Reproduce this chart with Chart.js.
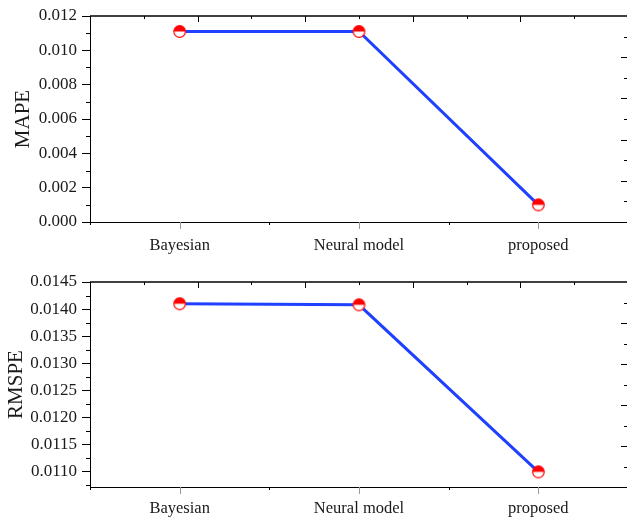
<!DOCTYPE html>
<html>
<head>
<title>MAPE / RMSPE</title>
<script src="https://cdn.jsdelivr.net/npm/chart.js"></script>
<style>
    html, body {
        margin: 0;
        padding: 0;
        background: #fff;
        overflow: hidden;
        width: 627px;
        height: 517px;
    }
    .panel { position: absolute; left: 0; }
    #topPanel { top: 0; }
    #bottomPanel { top: 260px; }
</style>
</head>
<body>
<div class="panel" id="topPanel"><canvas id="mapeChart" width="640" height="260"></canvas></div>
<div class="panel" id="bottomPanel"><canvas id="rmspeChart" width="640" height="257"></canvas></div>
<script>
// data
const models = ['Bayesian', 'Neural model', 'proposed'];
const mapeValues = [0.0111, 0.0111, 0.0010];
const rmspeValues = [0.01410, 0.01408, 0.01100];
const mapeTicks = [0, 0.002, 0.004, 0.006, 0.008, 0.010, 0.012];
const rmspeTicks = [0.0110, 0.0115, 0.0120, 0.0125, 0.0130, 0.0135, 0.0140, 0.0145];

const serif = 'Liberation Serif';
const textColor = '#1a1a1a';
const lineColor = '#2040ff';

// half filled circle marker (top red, bottom white)
function halfMarker() {
    const c = document.createElement('canvas');
    c.width = 15; c.height = 15;
    const g = c.getContext('2d');
    const r = 5.8, cx = 7.5, cy = 7.5;
    g.fillStyle = '#fff';
    g.beginPath(); g.arc(cx, cy, r, 0, Math.PI * 2); g.fill();
    g.fillStyle = '#ff0000';
    g.beginPath(); g.arc(cx, cy, r, Math.PI, 0); g.closePath(); g.fill();
    g.strokeStyle = '#ff0000'; g.lineWidth = 1.2;
    g.beginPath(); g.arc(cx, cy, r, 0, Math.PI * 2); g.stroke();
    return c;
}
const marker = halfMarker();

function seg(ctx, x1, y1, x2, y2) {
    ctx.beginPath(); ctx.moveTo(x1, y1); ctx.lineTo(x2, y2); ctx.stroke();
}

// origin style frame: minor ticks, top/right axes, category ticks
const framePlugin = {
    id: 'frame',
    afterDraw(chart, args, opts) {
        const { ctx, chartArea: a, scales } = chart;
        const x = scales.x, y = scales.y, xt = scales.xTop, yr = scales.yRight;
        ctx.save();
        ctx.strokeStyle = '#000';
        ctx.lineWidth = 1;
        // minor ticks on left axis
        const t = opts.ticks, step = t[1] - t[0];
        for (let v = t[0] - step / 2; v <= y.max + 1e-9; v += step) {
            if (v < y.min) continue;
            const py = Math.round(y.getPixelForValue(v)) + 0.5;
            seg(ctx, a.left - 4, py, a.left, py);
        }
        // top axis line + inward ticks
        ctx.lineWidth = 1.5;
        seg(ctx, a.left, a.top, a.right, a.top);
        seg(ctx, a.right, a.top, a.right, a.bottom);
        ctx.lineWidth = 1;
        for (let i = 1; i < 10; i++) {
            const px = Math.round(xt.getPixelForValue(i)) + 0.5;
            seg(ctx, px, a.top, px, a.top + (i % 2 ? 3 : 6));
        }
        // right axis inward ticks
        for (let i = 0; i < 10; i++) {
            const py = Math.round(yr.getPixelForValue(i)) + 0.5;
            seg(ctx, a.right - (i % 2 ? 4 : 7), py, a.right, py);
        }
        // category ticks (grey) and boundary ticks
        ctx.strokeStyle = '#999';
        models.forEach((m, i) => {
            const px = Math.round(x.getPixelForValue(i)) + 0.5;
            seg(ctx, px, a.bottom, px, a.bottom + 7);
        });
        ctx.strokeStyle = '#000';
        for (let i = 0; i <= models.length; i++) {
            const px = Math.round(x.getPixelForValue(i - 0.5)) + 0.5;
            seg(ctx, px, a.bottom, px, a.bottom + 3);
        }
        ctx.restore();
    }
};

function makeChart(id, values, ticks, min, max, digits, title, titlePad, padTop, xHeight, labelPad) {
    return new Chart(document.getElementById(id), {
        type: 'line',
        data: {
            labels: models,
            datasets: [{
                data: values,
                borderColor: lineColor,
                borderWidth: 3,
                tension: 0,
                pointStyle: marker,
                pointRadius: 6,
                pointHoverRadius: 6
            }]
        },
        options: {
            responsive: false,
            animation: false,
            events: [],
            layout: { padding: { top: padTop, right: 12, bottom: 0, left: 0 } },
            plugins: {
                legend: { display: false },
                tooltip: { enabled: false },
                frame: { ticks: ticks }
            },
            scales: {
                x: {
                    offset: true,
                    afterFit: ax => { ax.height = xHeight; },
                    ticks: { font: { family: serif, size: 16.5 }, color: textColor, padding: labelPad },
                    grid: { drawOnChartArea: false, tickLength: 8, tickColor: 'rgba(0,0,0,0)' },
                    border: { color: '#000', width: 1 }
                },
                y: {
                    min: min,
                    max: max,
                    afterBuildTicks: ax => { ax.ticks = ticks.map(v => ({ value: v })); },
                    afterFit: ax => { ax.width = 90; },
                    ticks: {
                        callback: v => Number(v).toFixed(digits),
                        font: { family: serif, size: 17 },
                        color: textColor,
                        padding: 5
                    },
                    grid: { drawOnChartArea: false, tickLength: 8, tickColor: '#000' },
                    border: { color: '#000', width: 1 },
                    title: {
                        display: true,
                        text: title,
                        font: { family: serif, size: 21 },
                        color: textColor,
                        padding: { top: titlePad, bottom: 0 }
                    }
                },
                xTop: { type: 'linear', display: false, min: 0, max: 10, position: 'top' },
                yRight: { type: 'linear', display: false, min: 0, max: 10, position: 'right' }
            }
        },
        plugins: [framePlugin]
    });
}

makeChart('mapeChart', mapeValues, mapeTicks, 0, 0.012, 3, 'MAPE', 11, 16, 38, 6);
makeChart('rmspeChart', rmspeValues, rmspeTicks, 0.01072, 0.0145, 4, 'RMSPE', 4, 22, 30, 4);
</script>
</body>
</html>
